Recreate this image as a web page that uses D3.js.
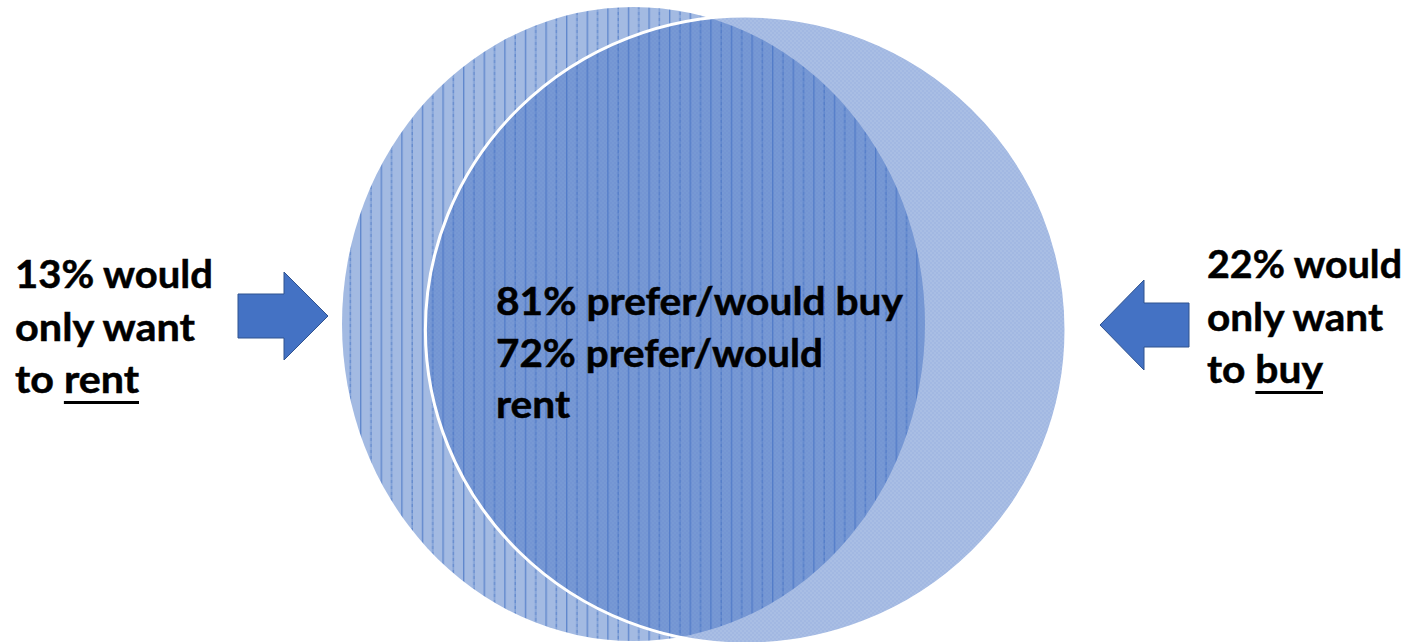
<!DOCTYPE html>
<html>
<head>
<meta charset="utf-8">
<script src="https://cdn.jsdelivr.net/npm/d3@7"></script>
<style>
  html, body { margin: 0; padding: 0; background: #ffffff; }
  svg { display: block; }
  text { font-family: Lato, "Open Sans", "Liberation Sans", sans-serif; font-weight: 700; fill: #000; stroke: #000; stroke-width: 0.5px; }
</style>
</head>
<body>
<svg id="chart" width="1416" height="642"></svg>
<script>
// Survey groups and shares (percent)
const groups = ["rent", "buy"];
const onlyShares = [13, 22];          // would only want to rent / only want to buy
const preferLabels = ["buy", "rent"];
const preferShares = [81, 72];        // prefer/would buy, prefer/would rent

const svg = d3.select("#chart");
const blue = "#4472C4";
const blueDark = "#2F528F";

const defs = svg.append("defs");

// vertical line texture for the "rent" set
const vlines = defs.append("pattern")
  .attr("id", "vlines")
  .attr("patternUnits", "userSpaceOnUse")
  .attr("x", 360).attr("y", 0)
  .attr("width", 20.6).attr("height", 6);
vlines.append("rect").attr("width", 20.6).attr("height", 6)
  .attr("fill", blue).attr("fill-opacity", 0.49);
vlines.append("rect").attr("x", 0).attr("width", 1.4).attr("height", 6)
  .attr("fill", blue).attr("fill-opacity", 0.7);
vlines.append("rect").attr("x", 10.3).attr("width", 1.4).attr("height", 3)
  .attr("fill", blue).attr("fill-opacity", 0.7);
vlines.append("rect").attr("x", 10.3).attr("y", 3).attr("width", 1.4).attr("height", 3)
  .attr("fill", blue).attr("fill-opacity", 0.4);

// fine checker texture for the "buy" set
const checker = defs.append("pattern")
  .attr("id", "checker")
  .attr("patternUnits", "userSpaceOnUse")
  .attr("width", 4).attr("height", 4);
checker.append("rect").attr("width", 4).attr("height", 4)
  .attr("fill", blue).attr("fill-opacity", 0.46);
checker.append("rect").attr("width", 2).attr("height", 2)
  .attr("fill", blue).attr("fill-opacity", 0.07);
checker.append("rect").attr("x", 2).attr("y", 2).attr("width", 2).attr("height", 2)
  .attr("fill", blue).attr("fill-opacity", 0.07);

// the two overlapping sets
const sets = [
  { name: groups[0], cx: 633.5, cy: 324, rx: 291.5, ry: 317, fill: "url(#vlines)", stroke: "none" },
  { name: groups[1], cx: 745.7, cy: 330, rx: 320.3, ry: 314, fill: "url(#checker)", stroke: "#ffffff" }
];

svg.append("g").selectAll("ellipse")
  .data(sets)
  .join("ellipse")
  .attr("cx", d => d.cx).attr("cy", d => d.cy)
  .attr("rx", d => d.rx).attr("ry", d => d.ry)
  .attr("fill", d => d.fill)
  .attr("stroke", d => d.stroke)
  .attr("stroke-width", 3);

// block arrows pointing at each set
const arrowShape = (x0, x1, xh, cy, shaftH, headH) => {
  // x0 = tail end, x1 = tip, xh = where the head starts
  const p = d3.path();
  p.moveTo(x0, cy - shaftH / 2);
  p.lineTo(xh, cy - shaftH / 2);
  p.lineTo(xh, cy - headH / 2);
  p.lineTo(x1, cy);
  p.lineTo(xh, cy + headH / 2);
  p.lineTo(xh, cy + shaftH / 2);
  p.lineTo(x0, cy + shaftH / 2);
  p.closePath();
  return p.toString();
};

const arrows = [
  arrowShape(238, 328, 284, 316, 44, 88),
  arrowShape(1189, 1100, 1144, 325, 44, 90)
];
svg.append("g").selectAll("path")
  .data(arrows)
  .join("path")
  .attr("d", d => d)
  .attr("fill", blue)
  .attr("stroke", blueDark)
  .attr("stroke-width", 1);

// text blocks
const fontSize = 39;
function block(x, baselines, lines, widths, underlineWord) {
  const g = svg.append("g");
  const texts = g.selectAll("text")
    .data(lines)
    .join("text")
    .attr("x", x)
    .attr("y", (d, i) => baselines[i])
    .attr("font-size", fontSize)
    .attr("textLength", (d, i) => widths[i])
    .attr("lengthAdjust", "spacingAndGlyphs")
    .text(d => d);
  if (underlineWord) {
    const last = texts.nodes()[lines.length - 1];
    const s = lines[lines.length - 1];
    const i0 = s.indexOf(underlineWord);
    const i1 = i0 + underlineWord.length - 1;
    const xa = last.getStartPositionOfChar(i0).x;
    const xb = last.getEndPositionOfChar(i1).x;
    const yb = baselines[lines.length - 1] + 9.5;
    g.append("line")
      .attr("x1", xa).attr("x2", xb)
      .attr("y1", yb).attr("y2", yb)
      .attr("stroke", "#000").attr("stroke-width", 3);
  }
}

block(15, [288, 341, 393],
  [`${onlyShares[0]}% would`, "only want", `to ${groups[0]}`],
  [198, 180, 124], groups[0]);

block(1207, [278, 331, 383],
  [`${onlyShares[1]}% would`, "only want", `to ${groups[1]}`],
  [195, 176, 116], groups[1]);

block(496, [315, 367, 418],
  [`${preferShares[0]}% prefer/would ${preferLabels[0]}`, `${preferShares[1]}% prefer/would`, preferLabels[1]],
  [407, 327, 74], null);
</script>
</body>
</html>
